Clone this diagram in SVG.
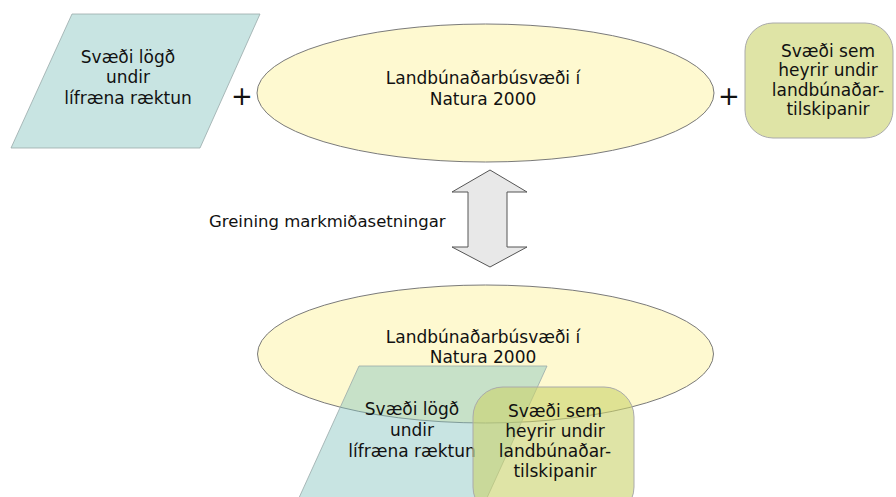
<svg xmlns="http://www.w3.org/2000/svg" width="896" height="497" viewBox="0 0 896 497">
<style>
text{font-family:"DejaVu Sans","Liberation Sans",sans-serif;font-size:17px;fill:#111;text-anchor:middle}
.ell{fill:#fef9d0;stroke:#7a7a7a;stroke-width:1}
.par{fill:#85c3bf;fill-opacity:0.45;stroke:#9aa;stroke-width:0.8}
.rr{fill:#c9d26a;fill-opacity:0.6;stroke:#aaa;stroke-width:1}
.plus{font-size:26px}
.lbl{text-anchor:start}
</style>
<rect width="896" height="497" fill="#fff"/>
<g id="organic-top">
<polygon class="par" points="72,14 260,14 200,148 11,148"/>
<text x="128" y="63">Svæði lögð</text>
<text x="128" y="83">undir</text>
<text x="128" y="104">lífræna ræktun</text>
</g>
<g id="natura-top">
<ellipse class="ell" cx="485.5" cy="93" rx="228.5" ry="69"/>
<text x="483" y="84">Landbúnaðarbúsvæði í</text>
<text x="483" y="105">Natura 2000</text>
</g>
<g id="agri-top">
<rect class="rr" x="745" y="23" width="148" height="115" rx="28"/>
<text x="828" y="57">Svæði sem</text>
<text x="828" y="76">heyrir undir</text>
<text x="828" y="96">landbúnaðar-</text>
<text x="828" y="115">tilskipanir</text>
</g>
<g id="plus-signs">
<text class="plus" x="242" y="105">+</text>
<text class="plus" x="729" y="105">+</text>
</g>
<g id="connectors">
<polygon points="490,170 527,192 507,192 507,247 527,247 490,267 452,247 468,247 468,192 452,192" fill="#e8e8e8" stroke="#555" stroke-width="1"/>
<text class="lbl" x="209" y="227" style="font-size:16.5px">Greining markmiðasetningar</text>
</g>
<g id="natura-bottom">
<ellipse class="ell" cx="485.5" cy="354" rx="228" ry="69"/>
<text x="483" y="343">Landbúnaðarbúsvæði í</text>
<text x="483" y="363">Natura 2000</text>
</g>
<g id="organic-bottom">
<polygon class="par" points="359,366 547,366 486,500 298,500"/>
<text x="412" y="415">Svæði lögð</text>
<text x="412" y="436">undir</text>
<text x="412" y="457">lífræna ræktun</text>
</g>
<g id="agri-bottom">
<rect class="rr" x="473" y="387" width="161" height="130" rx="30"/>
<text x="555" y="417">Svæði sem</text>
<text x="555" y="437">heyrir undir</text>
<text x="555" y="457">landbúnaðar-</text>
<text x="555" y="477">tilskipanir</text>
</g>
</svg>
